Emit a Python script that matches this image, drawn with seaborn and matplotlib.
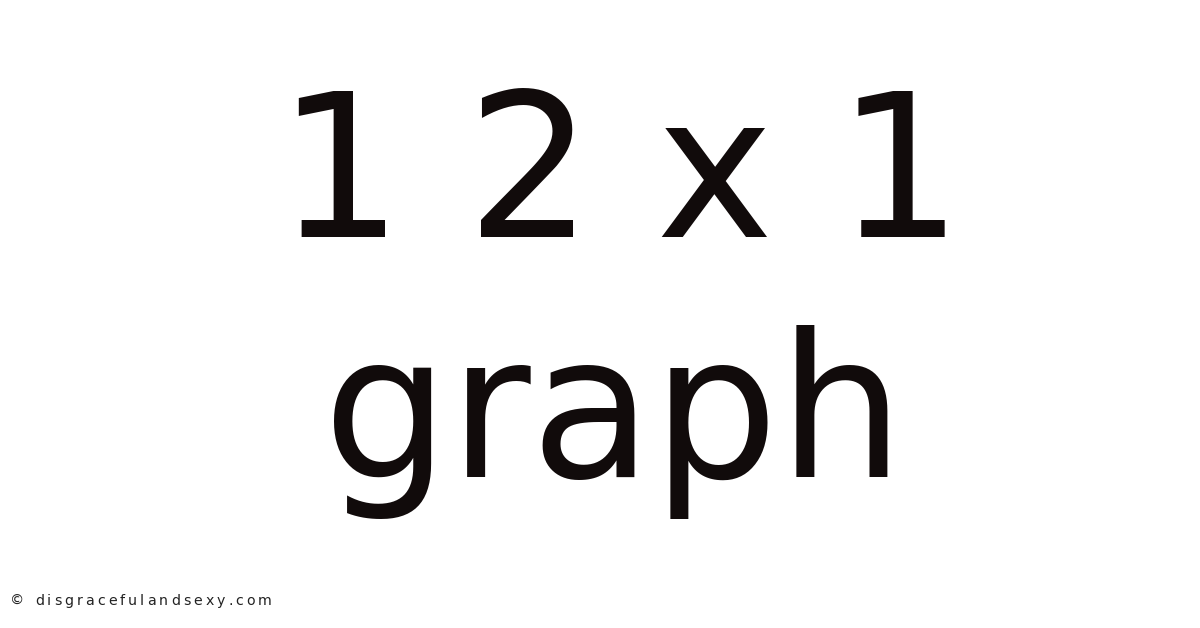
import matplotlib
matplotlib.use("Agg")
import matplotlib.pyplot as plt
from matplotlib import font_manager
from matplotlib.ft2font import FT2Font
import seaborn as sns

# text content of the card
title_lines = ["1 2 x 1", "graph"]
footer_text = "\u00a9 disgracefulandsexy.com"

sns.set_theme(style="white")
plt.rcParams['font.family'] = ['DejaVu Sans']

fig = plt.figure(figsize=(12, 6.28), dpi=100)
fig.patch.set_facecolor("white")
ax = fig.add_axes([0, 0, 1, 1])
ax.set_axis_off()
ax.set_xlim(0, 1200)
ax.set_ylim(628, 0)

ink = "#110b0b"
ax.text(620, 237, title_lines[0], fontsize=143, color=ink,
        ha="center", va="baseline")
ax.text(614, 477, title_lines[1], fontsize=143, color=ink,
        ha="center", va="baseline")

# footer is letter-spaced, so lay it out glyph by glyph
foot_size = 10.2
foot_left, foot_right = 10, 272
font = FT2Font(font_manager.findfont("DejaVu Sans"))
font.set_size(foot_size, 100)
adv = []
for ch in footer_text:
    g = font.load_char(ord(ch))
    adv.append(g.linearHoriAdvance / 65536)
track = (foot_right - foot_left - sum(adv)) / (len(footer_text) - 1)
x = foot_left
for ch, a in zip(footer_text, adv):
    ax.text(x, 605, ch, fontsize=foot_size, color="#222222",
            ha="left", va="baseline")
    x += a + track

fig.savefig("out.png", dpi=100, facecolor="white")
